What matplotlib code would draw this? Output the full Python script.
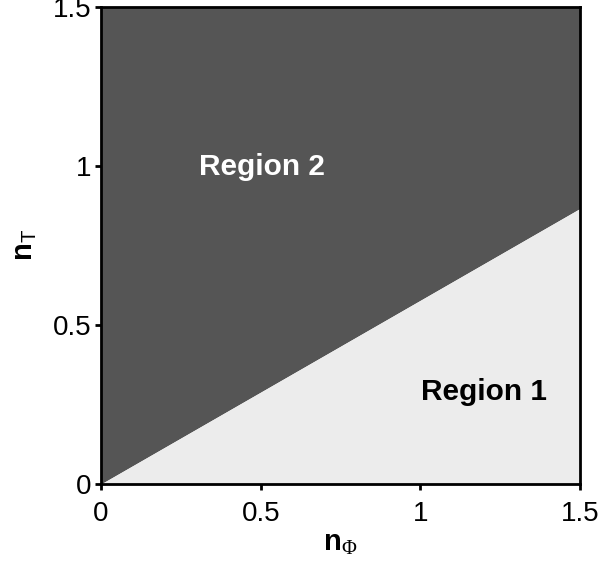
import matplotlib.pyplot as plt

plt.rcParams['font.family'] = 'Liberation Sans'
plt.rcParams['mathtext.fontset'] = 'custom'
plt.rcParams['mathtext.rm'] = 'Liberation Serif'
plt.rcParams['mathtext.sf'] = 'Liberation Sans'
plt.rcParams['mathtext.bf'] = 'Liberation Sans:bold'

# boundary between the two regions: n_T along the line through the origin
n_phi = [0.0, 1.5]
n_t_boundary = [0.0, 0.866]
ticks = [0, 0.5, 1, 1.5]
tick_labels = ['0', '0.5', '1', '1.5']

fig = plt.figure(figsize=(5.98, 5.64), dpi=100)
ax = fig.add_axes([0.169, 0.142, 0.801, 0.846])

ax.fill_between(n_phi, n_t_boundary, 1.5, color='#555555', lw=0)
ax.fill_between(n_phi, 0, n_t_boundary, color='#ececec', lw=0)

ax.set_xlim(0, 1.5)
ax.set_ylim(0, 1.5)
ax.set_xticks(ticks)
ax.set_xticklabels(tick_labels)
ax.set_yticks(ticks)
ax.set_yticklabels(tick_labels)
ax.tick_params(direction='out', length=4, width=2, labelsize=20)
ax.tick_params(axis='x', pad=8)
ax.tick_params(axis='y', pad=3)
for s in ax.spines.values():
    s.set_linewidth(2)

ax.set_xlabel(r'$\mathbf{n}_{\Phi}$', fontsize=21, labelpad=2)
ax.set_ylabel(r'$\mathbf{n}_{\mathsf{T}}$', fontsize=21, labelpad=10)

ax.text(0.505, 0.995, 'Region 2', color='white', fontsize=21.5,
        fontweight='bold', ha='center', va='center')
ax.text(1.2, 0.29, 'Region 1', color='black', fontsize=21.5,
        fontweight='bold', ha='center', va='center')

fig.savefig('out.png', dpi=100)
